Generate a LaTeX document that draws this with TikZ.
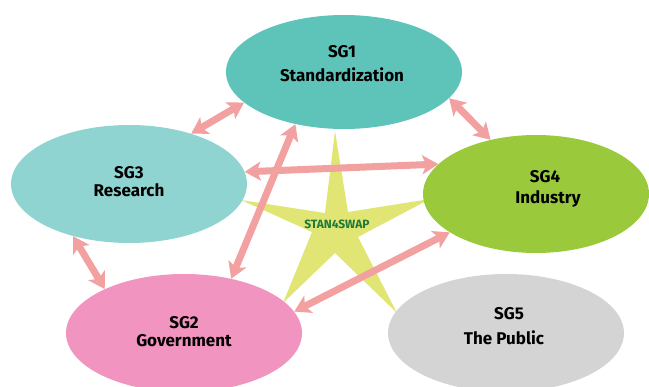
\documentclass[tikz,border=0pt]{standalone}
\usepackage{fontspec}
\setmainfont{Fira Sans}
\usetikzlibrary{shapes.geometric,arrows.meta}

\definecolor{sgone}{HTML}{5EC4BA}
\definecolor{sgtwo}{HTML}{F294C0}
\definecolor{sgthree}{HTML}{90D4D2}
\definecolor{sgfour}{HTML}{9ACA3C}
\definecolor{sgfive}{HTML}{D4D4D4}
\definecolor{linkpink}{HTML}{F2A0A0}
\definecolor{starfill}{HTML}{E1E574}
\definecolor{startext}{HTML}{1E7A3A}

\tikzset{
  group/.style={ellipse, draw=none, inner sep=0pt,
    minimum width=236pt, minimum height=118pt},
  grouptext/.style={align=center, text=black,
    font=\fontsize{17}{18}\selectfont\bfseries},
  link/.style={draw=linkpink, line width=7pt,
    {Stealth[length=16pt,width=19pt,inset=4pt]}-{Stealth[length=16pt,width=19pt,inset=4pt]}},
}

\begin{document}
\begin{tikzpicture}[x=1pt, y=-1pt]
  \useasboundingbox (0,0) rectangle (649,387);

  % central star
  \fill[starfill] (335,131) -- (348,212) -- (430,199) -- (358,237)
    -- (397,313) -- (335,253) -- (283,303) -- (312,232)
    -- (241,200) -- (325,213) -- cycle;
  \node[text=startext, font=\fontsize{12}{14}\selectfont\bfseries]
    (hub) at (337,224) {STAN4SWAP};

  % working groups
  \node[group, fill=sgone, minimum height=114pt] (sg1) at (344,72) {};
  \node[group, fill=sgthree] (sg3) at (129,184) {};
  \node[group, fill=sgfour, minimum width=226pt] (sg4) at (536,194) {};
  \node[group, fill=sgtwo] (sg2) at (184,333) {};
  \node[group, fill=sgfive] (sg5) at (506,333) {};

  \node[grouptext] (t1) at (342,64) {SG1\\[6pt]Standardization};
  \node[grouptext] (t3) at (129,182) {SG3\\Research};
  \node[grouptext] (t4) at (545,189) {SG4\\[3pt]\hspace*{6pt}Industry};
  \node[grouptext] (t2) at (184,332) {SG2\\Government};
  \node[grouptext] (t5) at (504,326) {\hspace*{10pt}SG5\\[7pt]The Public};

  % links between groups
  \draw[link] (sg3.39) -- (sg1.197);
  \draw[link] (sg1.-14) -- (sg4.130);
  \draw[link] (sg3.6) -- (sg4.163);
  \draw[link] (sg1.227) -- (sg2.49);
  \draw[link] (sg3.223) -- (sg2.151);
  \draw[link] (sg4.204) -- (sg2.11);
\end{tikzpicture}
\end{document}
